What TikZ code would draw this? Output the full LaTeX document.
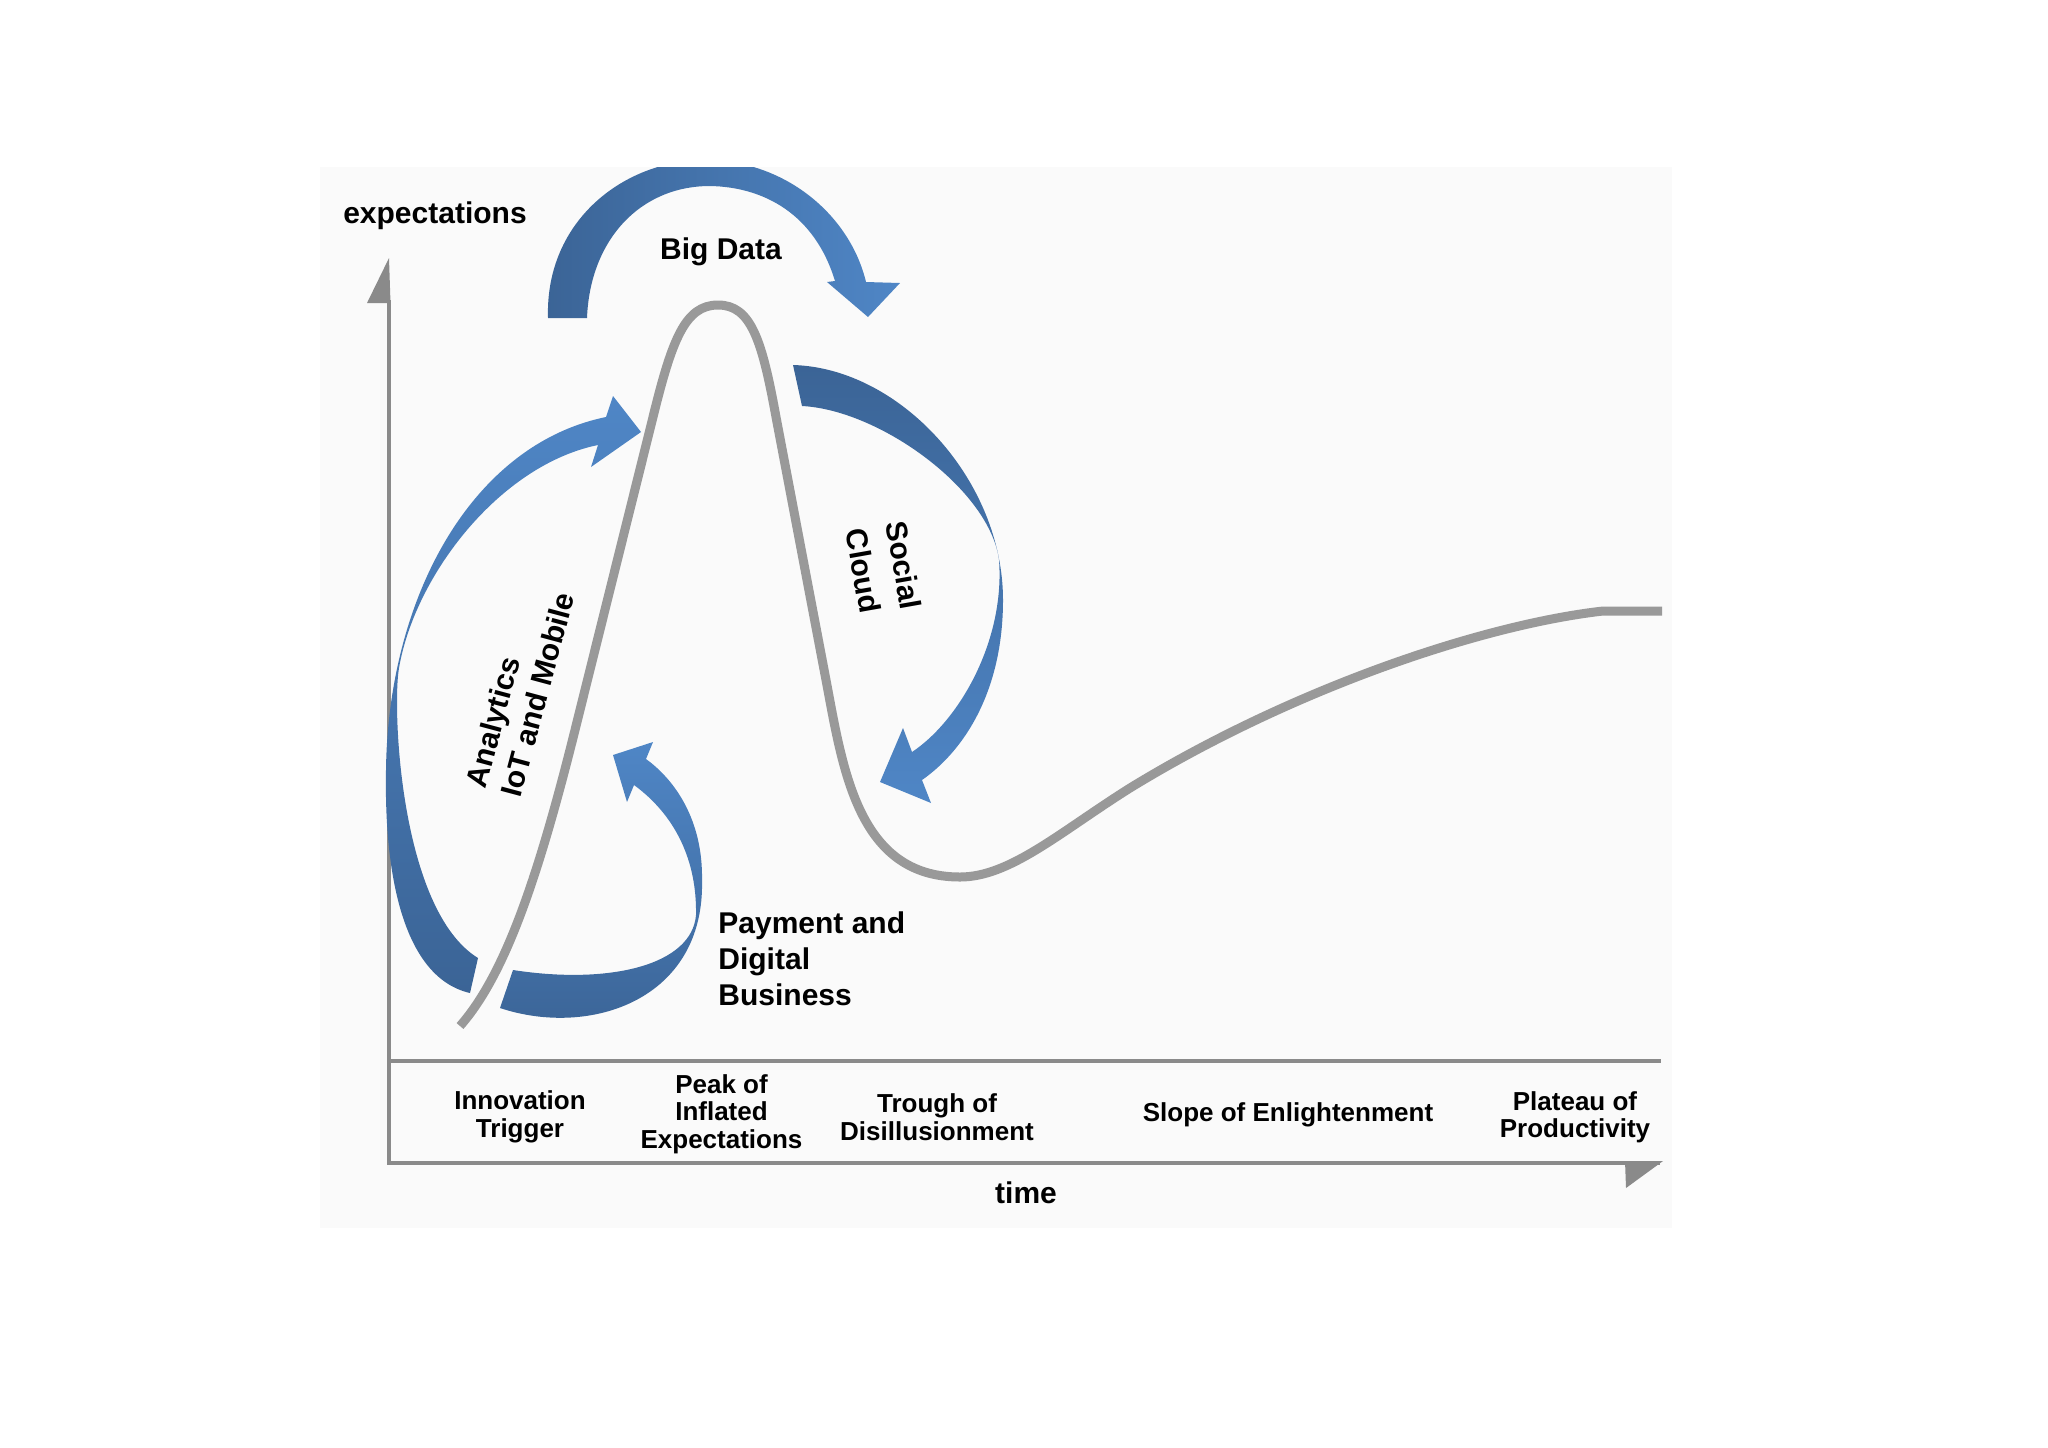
\documentclass[tikz,border=0pt]{standalone}
\usepackage{fontspec}
\setmainfont{Liberation Sans}
\definecolor{bdark}{HTML}{3B6496}
\definecolor{blight}{HTML}{4F86C6}
\definecolor{axisgray}{HTML}{8A8A8A}
\definecolor{curvegray}{HTML}{999999}
\definecolor{bgpanel}{HTML}{FAFAFA}
\begin{document}
\begin{tikzpicture}[x=0.5pt,y=-0.5pt,
  lbl/.style={font=\bfseries\fontsize{15pt}{18pt}\selectfont, inner sep=0pt, align=center},
  phase/.style={font=\bfseries\fontsize{13pt}{13.7pt}\selectfont, inner sep=0pt, align=center},
  axisline/.style={draw=axisgray, line width=1.6pt},
  hypecurve/.style={draw=curvegray, line width=4.5pt, line join=round},
  axishead/.style={fill=axisgray, draw=none}
]
\useasboundingbox (0,0) rectangle (2048,1447);
\fill[white] (0,0) rectangle (2048,1447);
\fill[bgpanel] (320,167) rectangle (1672,1228);

% axes
\draw[axisline] (389,300) -- (389,1163) -- (1660,1163);
\draw[axisline, line width=2pt] (389,1061) -- (1661,1061);
\fill[axishead] (389,258) -- (367,303) -- (390.5,303) -- cycle;
\fill[axishead] (1625,1161) -- (1663,1161) -- (1626,1188) -- cycle;

% hype curve
\draw[hypecurve]
  (460,1026) .. controls (505,975) and (538,878) .. (575,730)
  -- (653,417)
  .. controls (672,340) and (685,305) .. (718,305)
  .. controls (751,305) and (762,340) .. (776,417)
  -- (826,680)
  .. controls (843,770) and (858,877) .. (960,877)
  .. controls (1010,877) and (1060,832) .. (1130,788)
  .. controls (1290,690) and (1480,625) .. (1603,611)
  -- (1662,611);

% Big Data arrow
\begin{scope}
\clip (0,167) rectangle (2048,1447);
\shade[left color=bdark, right color=blight]
  (548,318) .. controls (545,220) and (625,160) .. (705,160)
  .. controls (785,160) and (850,215) .. (866,282)
  -- (900,283) -- (868,317) -- (827,282) -- (835,281)
  .. controls (815,215) and (765,187) .. (710,186)
  .. controls (640,186) and (590,240) .. (587,318) -- cycle;
\end{scope}

% Social Cloud arrow
\shade[top color=bdark, bottom color=blight]
  (793,365) .. controls (900,368) and (1003,480) .. (1003,600)
  .. controls (1003,690) and (965,750) .. (922,780)
  -- (931,803) -- (880,782) -- (903,728) -- (912,752)
  .. controls (960,720) and (1005,640) .. (999,560)
  .. controls (990,490) and (880,410) .. (802,406) -- cycle;

% Analytics arrow
\shade[top color=blight, bottom color=bdark]
  (470,993) .. controls (405,978) and (384,880) .. (386,770)
  .. controls (388,600) and (470,445) .. (606,417)
  -- (613,396) -- (641,432) -- (591,467) -- (598,445)
  .. controls (500,465) and (415,575) .. (399,668)
  .. controls (392,708) and (400,910) .. (478,958) -- cycle;

% Payment arrow
\shade[top color=blight, bottom color=bdark]
  (500,1008) .. controls (590,1038) and (705,1000) .. (702,880)
  .. controls (703,820) and (675,780) .. (646,759)
  -- (653,742) -- (613,755) -- (627,802) -- (634,785)
  .. controls (675,815) and (697,860) .. (696,915)
  .. controls (692,965) and (610,985) .. (513,970) -- cycle;

% labels
\node[lbl] (ylab) at (435,216) {expectations};
\node[lbl] (xlab) at (1026,1193) {time};
\node[lbl] (bigdata) at (721,252) {Big Data};
\node[lbl, align=left, rotate=75] (analytics) at (520,690) {Analytics\\IoT and Mobile};
\node[lbl, align=left, rotate=-80, font=\bfseries\fontsize{15pt}{20.5pt}\selectfont] (social) at (884,569) {Social\\Cloud};
\node[lbl, align=left, anchor=north west] (payment) at (718,911) {Payment and\\Digital\\Business};

\node[phase] (innov) at (520,1117) {Innovation\\Trigger};
\node[phase] (peak) at (721.5,1114) {Peak of\\Inflated\\Expectations};
\node[phase] (trough) at (937,1117) {Trough of\\Disillusionment};
\node[phase] (slope) at (1288,1115) {Slope of Enlightenment};
\node[phase] (plateau) at (1575,1117) {Plateau of\\Productivity};
\end{tikzpicture}
\end{document}
